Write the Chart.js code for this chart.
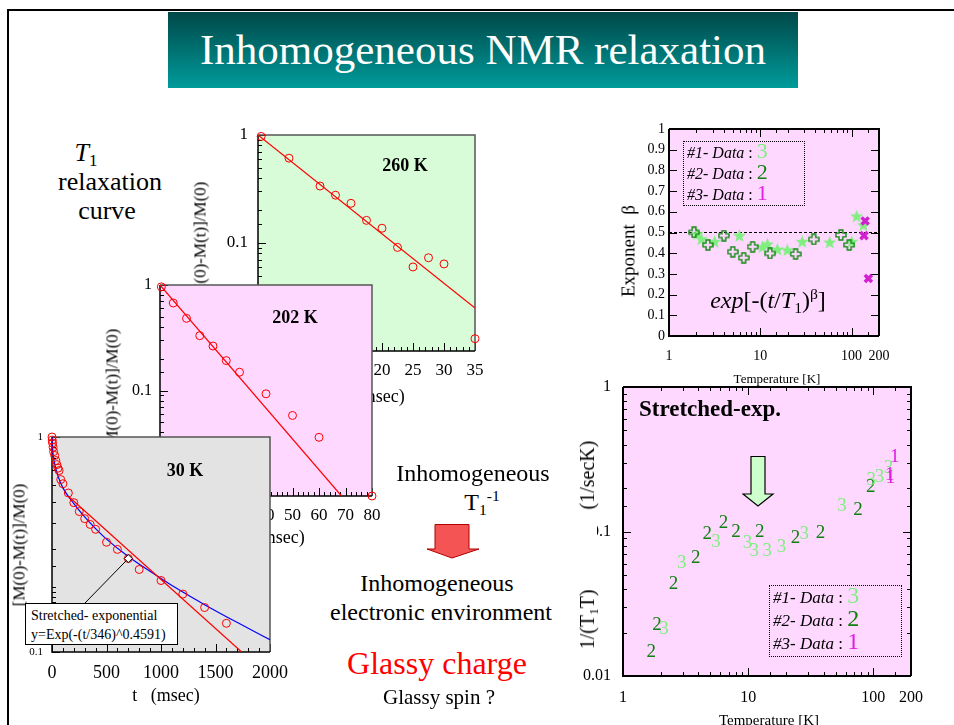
<!DOCTYPE html>
<html>
<head>
<meta charset="utf-8">
<script src="https://cdn.jsdelivr.net/npm/chart.js@4.4.1/dist/chart.umd.min.js"></script>
<style>
  body { margin: 0; background: #fff; }
  #slide { position: relative; width: 954px; height: 725px; overflow: hidden; background: #fff;
           font-family: "Liberation Serif", "Times New Roman", serif; color: #000; }
  #slide canvas { position: absolute; }
  #rule { position: absolute; left: 7px; top: 9px; width: 960px; height: 730px;
          border-top: 2px solid #000; border-left: 2px solid #000; }
  #title { position: absolute; left: 168px; top: 12px; width: 630px; height: 76px;
           background: linear-gradient(#004848, #009b9b); color: #fff; font-size: 43px;
           line-height: 76px; text-align: center; }
  .t { position: absolute; white-space: pre; line-height: 1; transform: translate(-50%, -50%); }
  .v { position: absolute; white-space: pre; line-height: 1; transform: translate(-50%, -50%) rotate(-90deg); }
  sub { font-size: 0.65em; vertical-align: -0.3em; line-height: 0; }
  sup { font-size: 0.65em; vertical-align: 0.6em; line-height: 0; }
  .box { position: absolute; background: #fff; border: 1px solid #000; font-size: 14px;
         line-height: 19px; padding: 2px 0 0 5px; box-sizing: border-box; white-space: pre; }
  .key { position: absolute; border: 1.5px dotted #000; box-sizing: border-box; padding-left: 3px; white-space: pre; }
  .key span { line-height: 0; }
</style>
</head>
<body>
<div id="slide">
  <div id="rule"></div>
  <div id="title">Inhomogeneous NMR relaxation</div>

  <div class="t" style="left:86px;top:153px;font-size:26px"><i>T</i><sub>1</sub></div>
  <div class="t" style="left:110px;top:182px;font-size:26px">relaxation</div>
  <div class="t" style="left:107px;top:211px;font-size:26px">curve</div>

  <canvas id="c260" width="315" height="296" style="left:185px;top:110px"></canvas>
  <div class="v" style="left:200px;top:243px;font-size:17px">[M(0)-M(t)]/M(0)</div>
  <div class="t" style="left:371px;top:396px;font-size:18px">t   (msec)</div>
  <div class="t" style="left:405px;top:165px;font-size:18px;font-weight:bold">260 K</div>

  <canvas id="c202" width="302" height="291" style="left:95px;top:260px"></canvas>
  <div class="v" style="left:112px;top:390px;font-size:17px">[M(0)-M(t)]/M(0)</div>
  <div class="t" style="left:271px;top:537px;font-size:18px">t   (msec)</div>
  <div class="t" style="left:295px;top:317px;font-size:18px;font-weight:bold">202 K</div>

  <canvas id="c30" width="292" height="295" style="left:8px;top:412px"></canvas>
  <div class="v" style="left:19px;top:545px;font-size:17px">[M(0)-M(t)]/M(0)</div>
  <div class="t" style="left:166px;top:695px;font-size:18px">t   (msec)</div>
  <div class="t" style="left:185px;top:470px;font-size:18px;font-weight:bold">30 K</div>
  <div class="box" style="left:25px;top:603px;width:153px;height:42px">Stretched- exponential
y=Exp(-(t/346)^0.4591)</div>

  <div class="t" style="left:473px;top:473px;font-size:24px">Inhomogeneous</div>
  <div class="t" style="left:482px;top:502px;font-size:24px">T<sub>1</sub><sup>-1</sup></div>
  <svg style="position:absolute;left:425px;top:524px" width="56" height="36">
    <polygon points="10,0.5 44,0.5 44,25 54,25 27,34 2,25 10,25" fill="#f45454" stroke="#b00000" stroke-width="1"/>
  </svg>
  <div class="t" style="left:437px;top:583px;font-size:24px">Inhomogeneous</div>
  <div class="t" style="left:441px;top:612px;font-size:24px">electronic environment</div>
  <div class="t" style="left:437px;top:663px;font-size:32px;color:#ff0000">Glassy charge</div>
  <div class="t" style="left:439px;top:697px;font-size:21px">Glassy spin ?</div>

  <canvas id="cBeta" width="294" height="282" style="left:610px;top:104px"></canvas>
  <div class="v" style="left:628px;top:251px;font-size:19px">Exponent  β</div>
  <div class="t" style="left:777px;top:378px;font-size:13px">Temperature [K]</div>
  <div class="key" style="left:683px;top:141px;width:122px;height:65px;font-size:16px;line-height:21px"><i>#1- Data</i> : <span style="color:#80ee80;font-size:22px">3</span>
<i>#2- Data</i> : <span style="color:#108010;font-size:22px">2</span>
<i>#3- Data</i> : <span style="color:#e020e0;font-size:22px">1</span></div>
  <div class="t" style="left:768px;top:300px;font-size:24px"><i>exp</i>[-(<i>t</i>/<i>T</i><sub>1</sub>)<sup>β</sup>]</div>

  <canvas id="cRate" width="361" height="359" style="left:575px;top:362px"></canvas>
  <div class="v" style="left:587px;top:545px;font-size:20px;background:#fff;padding:0">1/(T<sub>1</sub>T)<span style="display:inline-block;width:80px"></span>(1/secK)</div>
  <div class="t" style="left:769px;top:720px;font-size:15px">Temperature [K]</div>
  <div class="key" style="left:769px;top:585px;width:133px;height:72px;font-size:17px;line-height:23px"><i>#1- Data</i> : <span style="color:#80ee80;font-size:24px">3</span>
<i>#2- Data</i> : <span style="color:#108010;font-size:24px">2</span>
<i>#3- Data</i> : <span style="color:#e020e0;font-size:24px">1</span></div>
  <svg style="position:absolute;left:742px;top:456px" width="33" height="52">
    <polygon points="9,0.5 23,0.5 23,38 31,38 16,50 1,38 9,38" fill="#ccffcc" stroke="#000" stroke-width="1.2"/>
  </svg>
  <div class="t" style="left:710px;top:408px;font-size:23px;font-weight:bold">Stretched-exp.</div>
</div>

<script>
const FONT = '"Liberation Serif", "Times New Roman", serif';

// 260 K recovery, single-exponential fit
const t260 = [0.5, 5, 10, 12.5, 15, 17.5, 20, 22.5, 25, 27.5, 30, 35];
const m260 = [0.97, 0.61, 0.337, 0.277, 0.233, 0.162, 0.137, 0.091, 0.060, 0.073, 0.064, 0.013];
const fit260T = [0, 35];
const fit260M = [1, 0.025];

// 202 K recovery
const t202 = [0.5, 5, 10, 15, 20, 25, 30, 40, 50, 60, 80];
const m202 = [0.96, 0.675, 0.483, 0.331, 0.264, 0.192, 0.149, 0.093, 0.058, 0.036, 0.01];
const fit202T = [0, 68.5];
const fit202M = [1, 0.01];

// 30 K recovery, straight fit and stretched-exponential fit
const t30 = [0, 2, 5, 10, 15, 25, 35, 45, 55, 65, 80, 100, 150, 200, 250, 300, 350, 400, 500, 600, 700, 800, 1000, 1200, 1400, 1600];
const m30 = [1.0, 0.968, 0.938, 0.896, 0.855, 0.82, 0.777, 0.744, 0.716, 0.698, 0.634, 0.606, 0.549, 0.495, 0.45, 0.417, 0.392, 0.372, 0.324, 0.30, 0.272, 0.242, 0.215, 0.186, 0.161, 0.136];
const fit30T = [150, 1740];
const fit30M = [0.53, 0.1];
const str30T = [0, 10, 25, 50, 100, 200, 300, 400, 500, 700, 1000, 1200, 1400, 1600, 1800, 2000];
const str30M = [1, 0.83, 0.75, 0.67, 0.58, 0.49, 0.425, 0.375, 0.335, 0.278, 0.22, 0.19, 0.166, 0.146, 0.129, 0.114];
const note30 = { x: 700, y: 0.272 };

// exponent beta vs temperature
const betaT1 = [2.03, 2.27, 3.16, 5.91, 10.6, 12.0, 15.4, 19.8, 28.8, 57.7, 100.7, 114, 135];
const beta1 = [0.494, 0.469, 0.456, 0.485, 0.431, 0.444, 0.419, 0.416, 0.456, 0.453, 0.456, 0.579, 0.536];
const betaT2 = [1.88, 2.67, 3.99, 5.0, 6.59, 8.26, 12.8, 24.4, 38.6, 76.5, 94.4];
const beta2 = [0.501, 0.440, 0.485, 0.407, 0.378, 0.431, 0.399, 0.396, 0.467, 0.488, 0.44];
const betaT3 = [141, 137, 153];
const beta3 = [0.556, 0.485, 0.278];
const betaRef = 0.5;

// 1/(T1 T) vs temperature
const rateT1 = [2.13, 2.95, 5.54, 9.9, 11.2, 14.2, 18.5, 28.0, 56.2, 96.4, 112, 132];
const rate1 = [0.0213, 0.0602, 0.085, 0.0828, 0.0736, 0.0736, 0.0785, 0.096, 0.149, 0.228, 0.24, 0.274];
const rateT2 = [1.68, 1.87, 2.53, 3.82, 4.72, 6.34, 8.0, 12.4, 23.9, 37.8, 75.4, 95.2];
const rate2 = [0.0147, 0.0225, 0.0432, 0.0652, 0.096, 0.114, 0.0987, 0.0987, 0.0897, 0.0972, 0.141, 0.203];
const rateT3 = [135, 137, 148];
const rate3 = [0.245, 0.235, 0.33];

// tick labels
const decadeTicks = [0.01, 0.1, 1];
const decadeText = ['0.01', '0.1', '1'];
const tempTicks = [1, 10, 100, 200];
const tempText = ['1', '10', '100', '200'];
const betaTicks = [0, 0.1, 0.2, 0.3, 0.4, 0.5, 0.6, 0.7, 0.8, 0.9, 1];
const betaText = ['0', '0.1', '0.2', '0.3', '0.4', '0.5', '0.6', '0.7', '0.8', '0.9', '1'];
const ticks260 = [0, 5, 10, 15, 20, 25, 30, 35];
const ticks202 = [0, 10, 20, 30, 40, 50, 60, 70, 80];
const ticks30 = [0, 500, 1000, 1500, 2000];

const pts = (xs, ys) => xs.map((x, i) => ({ x, y: ys[i] }));

// plot fill, outline and inward tick marks
const panelFrame = {
    id: 'panelFrame',
    beforeDatasetsDraw(chart, args, o) {
        const { ctx, chartArea: a, scales: { x, y } } = chart;
        ctx.save();
        ctx.fillStyle = o.fill;
        ctx.fillRect(a.left, a.top, a.right - a.left, a.bottom - a.top);
        ctx.strokeStyle = '#000';
        ctx.lineWidth = 1;
        ctx.beginPath();
        x.ticks.forEach(t => {
            const px = Math.round(x.getPixelForValue(t.value)) + 0.5;
            const len = t.label ? o.major : o.minor;
            ctx.moveTo(px, a.bottom); ctx.lineTo(px, a.bottom - len);
            if (o.mirror) { ctx.moveTo(px, a.top); ctx.lineTo(px, a.top + len); }
        });
        y.ticks.forEach(t => {
            const py = Math.round(y.getPixelForValue(t.value)) + 0.5;
            const len = t.label ? o.major : o.minor;
            ctx.moveTo(a.left, py); ctx.lineTo(a.left + len, py);
            if (o.mirror) { ctx.moveTo(a.right, py); ctx.lineTo(a.right - len, py); }
        });
        ctx.stroke();
        ctx.lineWidth = o.edge;
        ctx.strokeStyle = o.far;
        ctx.beginPath();
        ctx.moveTo(a.left, a.top); ctx.lineTo(a.right, a.top); ctx.lineTo(a.right, a.bottom);
        ctx.stroke();
        ctx.strokeStyle = '#000';
        ctx.beginPath();
        ctx.moveTo(a.left, a.top); ctx.lineTo(a.left, a.bottom); ctx.lineTo(a.right, a.bottom);
        ctx.stroke();
        ctx.restore();
    }
};

// digits used as plot symbols
const textMarks = {
    id: 'textMarks',
    afterDatasetsDraw(chart) {
        const ctx = chart.ctx;
        chart.data.datasets.forEach((ds, i) => {
            if (!ds.mark) return;
            ctx.save();
            ctx.font = '19px ' + FONT;
            ctx.fillStyle = ds.markColor;
            ctx.textAlign = 'center';
            ctx.textBaseline = 'middle';
            chart.getDatasetMeta(i).data.forEach(p => ctx.fillText(ds.mark, p.x, p.y));
            ctx.restore();
        });
    }
};

// pointer from the annotation box to one data point
const leaderLine = {
    id: 'leaderLine',
    afterDatasetsDraw(chart, args, o) {
        if (!o.point) return;
        const { ctx, scales: { x, y } } = chart;
        const px = x.getPixelForValue(o.point.x), py = y.getPixelForValue(o.point.y);
        ctx.save();
        ctx.strokeStyle = '#000';
        ctx.lineWidth = 1;
        ctx.beginPath();
        ctx.moveTo(o.toX, o.toY); ctx.lineTo(px, py);
        ctx.stroke();
        ctx.beginPath();
        ctx.moveTo(px, py - 4); ctx.lineTo(px + 4, py); ctx.lineTo(px, py + 4); ctx.lineTo(px - 4, py); ctx.closePath();
        ctx.fillStyle = '#fff';
        ctx.fill();
        ctx.stroke();
        ctx.restore();
    }
};

function labelFor(at, text) {
    return v => {
        const i = at.findIndex(s => Math.abs(s - v) <= Math.abs(s) * 1e-6 + 1e-9);
        return i >= 0 ? text[i] : '';
    };
}

function axis(a, dir) {
    return {
        type: a.log ? 'logarithmic' : 'linear',
        min: a.min, max: a.max,
        grid: { display: false, drawTicks: false },
        border: { display: false },
        ticks: {
            stepSize: a.step, autoSkip: false, maxRotation: 0, minRotation: 0,
            padding: a.pad, color: '#000', font: { family: FONT, size: a.size },
            callback: labelFor(a.at, a.text)
        },
        afterFit: s => { if (dir === 'x') s.height = a.room; else s.width = a.room; }
    };
}

// top/right padding is kept larger than the edge labels' overhang so the plot box stays put
function panel(id, o) {
    return new Chart(document.getElementById(id), {
        type: 'scatter',
        data: { datasets: o.datasets },
        options: {
            responsive: false,
            animation: false,
            layout: { padding: { top: 25, right: o.right || 25, bottom: 0, left: 0 } },
            plugins: {
                legend: { display: false },
                tooltip: { enabled: false },
                panelFrame: o.frame,
                leaderLine: o.leader || {}
            },
            scales: { x: axis(o.x, 'x'), y: axis(o.y, 'y') }
        },
        plugins: [panelFrame, textMarks, leaderLine]
    });
}

const circles = (xs, ys) => ({
    data: pts(xs, ys), clip: false, pointRadius: 4, pointBorderWidth: 1,
    pointBorderColor: '#ff0000', pointBackgroundColor: 'rgba(0,0,0,0)'
});
const fitLine = (xs, ys, color) => ({
    data: pts(xs, ys), showLine: true, pointRadius: 0, borderColor: color, borderWidth: 1.2
});
const openFrame = fill => ({ fill, far: '#555', edge: 1.5, major: 8, minor: 4, mirror: false });
const boxFrame = { fill: '#ffd8ff', far: '#000', edge: 2, major: 8, minor: 4, mirror: true };

panel('c260', {
    frame: openFrame('#d8fcd8'),
    x: { min: 0, max: 35, step: 1, at: ticks260, text: ticks260.map(String), size: 17, pad: 9, room: 55 },
    y: { log: true, min: 0.01, max: 1, at: decadeTicks, text: decadeText, size: 17, pad: 10, room: 73 },
    datasets: [circles(t260, m260), fitLine(fit260T, fit260M, '#ff0000')]
});

panel('c202', {
    frame: openFrame('#ffd8ff'),
    x: { min: 0, max: 80, step: 2, at: ticks202, text: ticks202.map(String), size: 17, pad: 9, room: 55 },
    y: { log: true, min: 0.01, max: 1, at: decadeTicks, text: decadeText, size: 16, pad: 8, room: 65 },
    datasets: [circles(t202, m202), fitLine(fit202T, fit202M, '#ff0000')]
});

panel('c30', {
    right: 30,
    frame: openFrame('#e3e3e3'),
    leader: { point: note30, toX: 77, toY: 191 },
    x: { min: 0, max: 2000, step: 100, at: ticks30, text: ticks30.map(String), size: 18, pad: 10, room: 55 },
    y: { log: true, min: 0.1, max: 1, at: decadeTicks, text: decadeText, size: 11, pad: 9, room: 44 },
    datasets: [
        circles(t30, m30),
        fitLine(fit30T, fit30M, '#ff0000'),
        Object.assign(fitLine(str30T, str30M, '#0000ff'), { cubicInterpolationMode: 'monotone' })
    ]
});

// symbols for the exponent plot
function plusMark(color) {
    const c = document.createElement('canvas');
    c.width = c.height = 12;
    const g = c.getContext('2d'), m = 6, w = 1.9, e = 1;
    g.strokeStyle = color;
    g.lineWidth = 1.4;
    g.beginPath();
    [[m - w, e], [m + w, e], [m + w, m - w], [12 - e, m - w], [12 - e, m + w], [m + w, m + w],
     [m + w, 12 - e], [m - w, 12 - e], [m - w, m + w], [e, m + w], [e, m - w], [m - w, m - w]]
        .forEach(([px, py], i) => i ? g.lineTo(px, py) : g.moveTo(px, py));
    g.closePath();
    g.stroke();
    return c;
}
function starMark(color) {
    const c = document.createElement('canvas');
    c.width = c.height = 15;
    const g = c.getContext('2d');
    g.fillStyle = color;
    g.beginPath();
    for (let i = 0; i < 10; i++) {
        const r = i % 2 ? 2.9 : 7, ang = -Math.PI / 2 + i * Math.PI / 5;
        const px = 7.5 + r * Math.cos(ang), py = 8 + r * Math.sin(ang);
        i ? g.lineTo(px, py) : g.moveTo(px, py);
    }
    g.closePath();
    g.fill();
    return c;
}

panel('cBeta', {
    frame: boxFrame,
    x: { log: true, min: 1, max: 200, at: tempTicks, text: tempText, size: 14, pad: 12, room: 50 },
    y: { min: 0, max: 1, step: 0.1, at: betaTicks, text: betaText, size: 14, pad: 4, room: 59 },
    datasets: [
        { data: pts(betaT3, beta3), pointStyle: 'crossRot', pointRadius: 5, pointBorderWidth: 3.5, pointBorderColor: '#d020d0' },
        { data: pts(betaT2, beta2), pointStyle: plusMark('#118811') },
        { data: pts(betaT1, beta1), pointStyle: starMark('#80ee80') },
        { data: pts([1, 200], [betaRef, betaRef]), showLine: true, pointRadius: 0, borderColor: '#000', borderWidth: 1, borderDash: [3, 2] }
    ]
});

panel('cRate', {
    frame: boxFrame,
    x: { log: true, min: 1, max: 200, at: tempTicks, text: tempText, size: 16, pad: 12, room: 45 },
    y: { log: true, min: 0.01, max: 1, at: decadeTicks, text: decadeText, size: 16, pad: 12, room: 48 },
    datasets: [
        { data: pts(rateT2, rate2), pointRadius: 0, mark: '2', markColor: '#108010' },
        { data: pts(rateT1, rate1), pointRadius: 0, mark: '3', markColor: '#80ee80' },
        { data: pts(rateT3, rate3), pointRadius: 0, mark: '1', markColor: '#e020e0' }
    ]
});
</script>
</body>
</html>
